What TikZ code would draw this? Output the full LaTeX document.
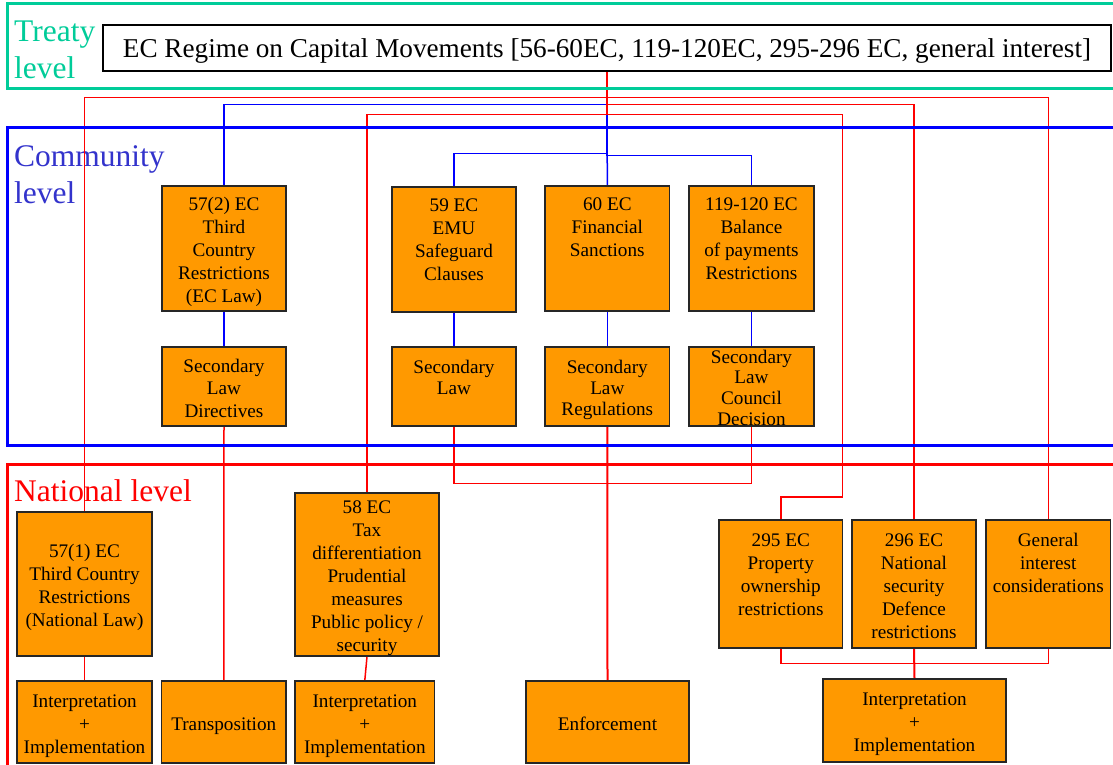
\documentclass[tikz,border=0pt]{standalone}
\usepackage{fontspec}
\setmainfont{Liberation Serif}
\definecolor{tgreen}{RGB}{0,204,153}
\definecolor{cblue}{RGB}{51,51,204}
\definecolor{bxorange}{RGB}{255,153,0}
\pgfdeclarelayer{lab}
\pgfdeclarelayer{conn}
\pgfdeclarelayer{frm}
\pgfsetlayers{lab,conn,frm,main}
\def\Ttop{3.5pt}
\def\Tbot{-3.5pt}
\newcommand\Tlines[1]{\raisebox{0pt}[\dimexpr\height+\Ttop\relax][\dimexpr\depth+\Tbot\relax]{\begin{tabular}{@{}c@{}}#1\end{tabular}}}
\tikzset{
  bx/.style={draw=black!85, line width=1.4pt, fill=bxorange, inner sep=0pt,
     font=\fontsize{19.2}{23}\selectfont},
  tight/.style={font=\fontsize{19.2}{21}\selectfont},
  tighter/.style={font=\fontsize{19.2}{20.7}\selectfont, execute at begin node={\def\Ttop{1.6pt}\def\Tbot{-5.4pt}}},
  mid/.style={font=\fontsize{19.2}{22.5}\selectfont},
  rl/.style={draw=red, line width=1.5pt},
  bl/.style={draw=blue, line width=1.5pt},
  lvl/.style={inner sep=0pt, font=\fontsize{31.5}{37}\selectfont},
  frame/.style={line width=3pt}
}
\newcommand\mybox[7][]{\node[bx,#1, minimum width={(#4-#2)*1pt}, minimum height={(#5-#3)*1pt}] (#6) at ({(#2+#4)/2},{(#3+#5)/2}) {\Tlines{#7}};}
\begin{document}
\begin{tikzpicture}[x=1pt,y=-1pt]
\clip (0,0) rectangle (1113,765);
% level labels
\begin{pgfonlayer}{lab}
\node[lvl, text=tgreen, anchor=base west] (tl1) at (14,41.7) {Treaty};
\node[lvl, text=tgreen, anchor=base west] (tl2) at (14,78.3) {level};
\node[lvl, text=cblue, anchor=base west] (cl1) at (14,166.7) {Community};
\node[lvl, text=cblue, anchor=base west] (cl2) at (14,203.3) {level};
\node[lvl, text=red, anchor=base west] (nl) at (14,501.7) {National level};
\end{pgfonlayer}
% top box
\node[draw=black, line width=1.4pt, fill=white, minimum width=1008pt, minimum height=46pt, inner sep=0pt,
  text height=18.6pt, text depth=0pt, font=\fontsize{27.2}{32}\selectfont] (top) at (607,48)
  {EC Regime on Capital Movements [56-60EC, 119-120EC, 295-296 EC, general interest]};
% boxes
\mybox{162}{186}{286}{311}{b572}{57(2) EC\\Third\\Country\\Restrictions\\(EC Law)}
\mybox{392}{187}{516}{312}{b59}{59 EC\\EMU\\Safeguard\\Clauses\\{}}
\mybox{545}{186}{669.6}{311}{b60}{60 EC\\Financial\\Sanctions\\{}\\{}}
\mybox{689}{186}{814}{311}{b119}{119-120 EC\\Balance\\of payments\\Restrictions\\{}}
\mybox[mid]{162}{347}{286}{426}{s572}{Secondary\\Law\\Directives}
\mybox[tight]{392}{347}{516}{426}{s59}{Secondary\\Law\\{}}
\mybox[tight]{545}{347}{669.6}{426}{s60}{Secondary\\Law\\Regulations}
\mybox[tighter]{689}{347}{814}{426}{s119}{Secondary\\Law\\Council\\Decision}
\mybox{17}{512}{152}{656}{b571}{57(1) EC\\Third Country\\Restrictions\\(National Law)}
\mybox{295}{493}{439}{656}{b58}{58 EC\\Tax\\differentiation\\Prudential\\measures\\Public policy /\\security}
\mybox{17}{681}{152}{763}{i1}{Interpretation\\+\\Implementation}
\mybox{161.5}{681}{286}{763}{tr}{Transposition}
\mybox{295}{681}{434.6}{763}{i2}{Interpretation\\+\\Implementation}
\mybox{526}{681}{689}{763}{enf}{Enforcement}
\mybox{719}{520}{842.6}{648}{b295}{295 EC\\Property\\ownership\\restrictions\\{}}
\mybox{852}{520}{976}{648}{b296}{296 EC\\National\\security\\Defence\\restrictions}
\mybox{986}{520}{1110.5}{648}{gen}{General\\interest\\considerations\\{}\\{}}
\mybox{823}{679}{1006}{762}{i3}{Interpretation\\+\\Implementation}
\coordinate (k295) at (842.6,497);
% frames
\begin{pgfonlayer}{frm}
\draw[frame, draw=tgreen] (7,3.5) rectangle (1130,89);
\draw[frame, draw=blue] (7,128) rectangle (1130,445);
\draw[frame, draw=red] (7,464) rectangle (1130,790);
\end{pgfonlayer}
% connectors
\begin{pgfonlayer}{conn}
\draw[bl] (top.south) -- (b60.north);
\draw[bl] (top.south) -- ++(0,33) -| (b572.north);
\draw[bl] (top.south) -- ++(0,82) -| (b59.north);
\draw[bl] (top.south) -- ++(0,84) -| (b119.north);
\draw[bl] (b572.south) -- (s572.north);
\draw[bl] (b59.south) -- (s59.north);
\draw[bl] (b60.south) -- (s60.north);
\draw[bl] (b119.south) -- (s119.north);
\draw[rl, line width=2.2pt] (top.south) -- ++(0,43);
\draw[rl] (top.south) -- ++(0,26) -| (b571.north);
\draw[rl] (top.south) -- ++(0,26) -| (gen.north);
\draw[rl] (top.south) -- ++(0,33) -| (b296.north);
\draw[rl] (top.south) -- ++(0,43) -| (b58.north);
\draw[rl] (top.south) -- ++(0,43) -| (k295) -| (b295.north);
\draw[rl] (s572.south) -- (tr.north);
\draw[rl] (s59.south) -- ++(0,57) -| (s119.south);
\draw[rl, line width=2pt] (s60.south) -- (enf.north);
\draw[rl] (b571.south) -- (i1.north);
\draw[rl] (b58.south) -- (i2.north);
\draw[rl] (b295.south) -- ++(0,15) -| (gen.south);
\draw[rl, line width=2pt] (b296.south) -- (i3.north);
\end{pgfonlayer}
\end{tikzpicture}
\end{document}
